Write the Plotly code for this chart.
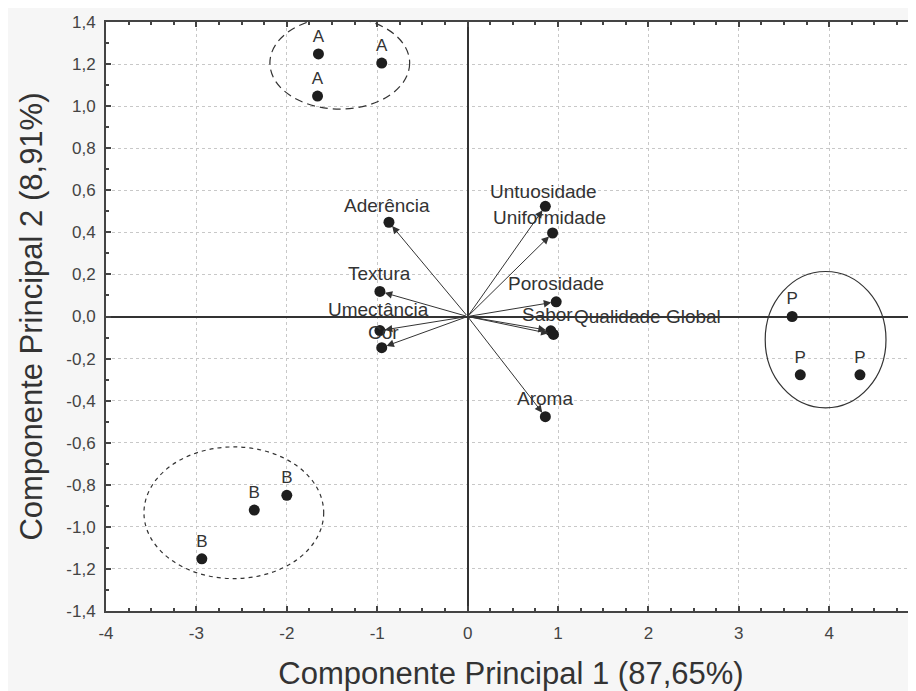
import plotly.graph_objects as go

# ---- data ----
obs_group = ["A", "A", "A", "B", "B", "B", "P", "P", "P"]
obs_x = [-1.65, -0.95, -1.66, -2.94, -2.36, -2.00, 3.59, 3.68, 4.34]
obs_y = [1.248, 1.205, 1.048, -1.152, -0.92, -0.85, 0.0, -0.277, -0.277]

var_names = ["Aderência", "Textura", "Umectância", "Cor", "Untuosidade", "Uniformidade",
             "Porosidade", "Sabor", "Qualidade Global", "Aroma"]
var_x = [-0.87, -0.97, -0.97, -0.95, 0.86, 0.94, 0.98, 0.92, 0.95, 0.86]
var_y = [0.448, 0.119, -0.067, -0.148, 0.524, 0.397, 0.07, -0.068, -0.085, -0.476]

x_ticks = [-4, -3, -2, -1, 0, 1, 2, 3, 4]
x_ticktext = ["-4", "-3", "-2", "-1", "0", "1", "2", "3", "4"]
y_ticks = [-1.4, -1.2, -1.0, -0.8, -0.6, -0.4, -0.2, 0.0, 0.2, 0.4, 0.6, 0.8, 1.0, 1.2, 1.4]
y_ticktext = ["-1,4", "-1,2", "-1,0", "-0,8", "-0,6", "-0,4", "-0,2", "0,0",
              "0,2", "0,4", "0,6", "0,8", "1,0", "1,2", "1,4"]

x_title = "Componente Principal 1 (87,65%)"
y_title = "Componente Principal 2 (8,91%)"

# ---- layout helpers (label placement) ----
label_pos = {
    "Aderência": (-0.89, 0.53),
    "Textura": (-0.98, 0.205),
    "Umectância": (-0.99, 0.032),
    "Cor": (-0.93, -0.078),
    "Untuosidade": (0.84, 0.595),
    "Uniformidade": (0.91, 0.47),
    "Porosidade": (0.98, 0.157),
    "Sabor": (0.88, 0.01),
    "Qualidade Global": (1.99, 0.0),
    "Aroma": (0.86, -0.39),
}

FONT = "Liberation Sans, Arial, sans-serif"
INK = "#1e1e1e"

fig = go.Figure()

fig.add_trace(go.Scatter(
    x=var_x, y=var_y, mode="markers",
    marker=dict(size=11, color=INK), hoverinfo="skip", showlegend=False))

fig.add_trace(go.Scatter(
    x=obs_x, y=obs_y, mode="markers+text", text=obs_group,
    textposition="top center", textfont=dict(family=FONT, size=17, color="#333"),
    marker=dict(size=11, color=INK), hoverinfo="skip", showlegend=False,
    cliponaxis=False))

annotations = []
for name, vx, vy in zip(var_names, var_x, var_y):
    annotations.append(dict(
        x=vx, y=vy, ax=0, ay=0, xref="x", yref="y", axref="x", ayref="y",
        text="", showarrow=True, arrowhead=2, arrowsize=1.5, arrowwidth=1,
        arrowcolor="#333", standoff=5))
    lx, ly = label_pos[name]
    annotations.append(dict(
        x=lx, y=ly, xref="x", yref="y", text=name, showarrow=False,
        font=dict(family=FONT, size=19, color="#333")))

shapes = [
    dict(type="circle", xref="x", yref="y", x0=-1.414 - 0.773, x1=-1.414 + 0.773,
         y0=1.205 - 0.219, y1=1.205 + 0.219, line=dict(color="#333", width=1.2, dash="8px,5px")),
    dict(type="circle", xref="x", yref="y", x0=-2.586 - 0.994, x1=-2.586 + 0.994,
         y0=-0.933 - 0.313, y1=-0.933 + 0.313, line=dict(color="#333", width=1.2, dash="4px,4px")),
    dict(type="circle", xref="x", yref="y", x0=3.96 - 0.668, x1=3.96 + 0.668,
         y0=-0.11 - 0.324, y1=-0.11 + 0.324, line=dict(color="#333", width=1.2)),
]

fig.update_layout(
    width=908, height=683,
    margin=dict(l=98, r=0, t=14, b=80),
    paper_bgcolor="#f6f6f6", plot_bgcolor="white",
    font=dict(family=FONT, color="#333"),
    annotations=annotations, shapes=shapes, showlegend=False,
)

fig.update_xaxes(
    range=[-4, 4.96], tickvals=x_ticks, ticktext=x_ticktext,
    ticks="inside", ticklen=5, tickcolor="#444", tickwidth=1.5,
    minor=dict(dtick=0.25, ticks="inside", ticklen=3, tickcolor="#444", showgrid=False),
    showline=True, linecolor="#444", linewidth=2, mirror="ticks",
    showgrid=True, gridcolor="#c8c8c8", griddash="dot", gridwidth=1,
    zeroline=True, zerolinecolor="#333", zerolinewidth=1.5,
    tickfont=dict(family=FONT, size=17, color="#444"), ticklabelstandoff=6,
    automargin=False,
    title=dict(text=x_title, font=dict(family=FONT, size=31, color="#333"), standoff=22),
)
fig.update_yaxes(
    range=[-1.4, 1.4], tickvals=y_ticks, ticktext=y_ticktext,
    ticks="inside", ticklen=5, tickcolor="#444", tickwidth=1.5,
    minor=dict(dtick=0.1, ticks="inside", ticklen=3, tickcolor="#444", showgrid=False),
    showline=True, linecolor="#444", linewidth=2,
    showgrid=True, gridcolor="#c8c8c8", griddash="dot", gridwidth=1,
    zeroline=True, zerolinecolor="#333", zerolinewidth=1.5,
    tickfont=dict(family=FONT, size=17, color="#444"), ticklabelstandoff=5,
    automargin=False,
    title=dict(text=y_title, font=dict(family=FONT, size=31, color="#333"), standoff=14),
)

fig.write_html("out.html")
